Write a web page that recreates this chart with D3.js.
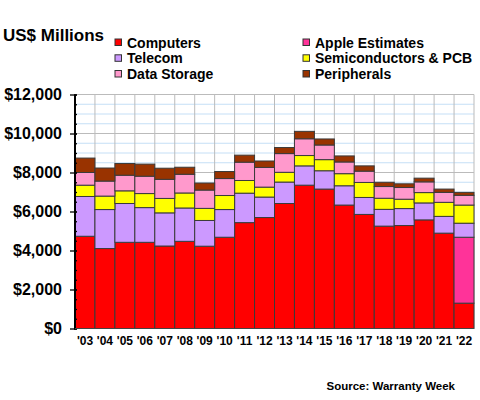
<!DOCTYPE html>
<html>
<head>
<meta charset="utf-8">
<script src="https://cdn.jsdelivr.net/npm/d3@7"></script>
<style>
  html, body { margin: 0; padding: 0; background: #fff; }
  svg { display: block; font-family: "Liberation Sans", Arial, sans-serif; }
</style>
</head>
<body>
<svg id="chart" width="480" height="400"></svg>
<script>
const years = ["'03","'04","'05","'06","'07","'08","'09","'10","'11","'12","'13","'14","'15","'16","'17","'18","'19","'20","'21","'22"];
const computers      = [4730,4100,4420,4420,4230,4470,4220,4680,5430,5690,6410,7350,7150,6330,5850,5250,5280,5570,4890,1300];
const appleEstimates = [0,0,0,0,0,0,0,0,0,0,0,0,0,0,0,0,0,0,0,3380];
const telecom        = [2040,2000,1990,1780,1700,1710,1320,1420,1510,1050,1100,990,940,990,870,860,870,870,860,720];
const semiconductors = [580,690,650,720,740,770,620,720,650,510,500,530,570,620,770,570,480,530,720,930];
const dataStorage    = [650,770,800,890,980,960,940,870,940,1010,960,860,750,600,580,600,600,550,510,500];
const peripherals    = [740,670,600,620,570,360,360,360,360,330,310,380,310,310,270,220,190,190,170,150];
const yTicks = [0,2000,4000,6000,8000,10000,12000];

const seriesKeys  = ["Computers","Apple Estimates","Telecom","Semiconductors & PCB","Data Storage","Peripherals"];
const seriesVals  = [computers, appleEstimates, telecom, semiconductors, dataStorage, peripherals];
const colors = {"Computers":"#FF0000","Apple Estimates":"#FF3399","Telecom":"#CC99FF","Semiconductors & PCB":"#FFFF00","Data Storage":"#FF99CC","Peripherals":"#993300"};

const rows = years.map((y, i) => {
  const r = {year: y};
  seriesKeys.forEach((k, j) => r[k] = seriesVals[j][i]);
  return r;
});

const svg = d3.select("#chart");
const x0 = 75, x1 = 474, yTop = 94.5, yBot = 328.5;

const x = d3.scaleBand().domain(years).range([x0, x1]).padding(0);
const y = d3.scaleLinear().domain([0, 12000]).range([yBot, yTop]);

svg.append("rect").attr("width", 480).attr("height", 400).attr("fill", "#fff");

// minor horizontal gridlines
const g = svg.append("g");
d3.range(500, 12000, 500).filter(v => v % 2000 !== 0).forEach(v => {
  g.append("line").attr("x1", x0).attr("x2", x1).attr("y1", y(v)).attr("y2", y(v))
    .attr("stroke", "#C5DFF6").attr("stroke-width", 1);
});
// major horizontal gridlines
yTicks.filter(v => v > 0).forEach(v => {
  g.append("line").attr("x1", x0).attr("x2", x1).attr("y1", y(v)).attr("y2", y(v))
    .attr("stroke", "#BBBBBB").attr("stroke-width", 1);
});
// vertical gridlines
years.forEach(yr => {
  const xv = x(yr) + x.bandwidth();
  g.append("line").attr("x1", xv).attr("x2", xv).attr("y1", yTop).attr("y2", yBot)
    .attr("stroke", "#BBBBBB").attr("stroke-width", 1);
});

// stacked bars
const stack = d3.stack().keys(seriesKeys);
const stacked = stack(rows);
svg.append("g").selectAll("g").data(stacked).join("g")
  .attr("fill", d => colors[d.key])
  .selectAll("rect").data(d => d.filter(p => p[1] - p[0] > 0)).join("rect")
  .attr("x", d => x(d.data.year))
  .attr("width", x.bandwidth())
  .attr("y", d => y(d[1]))
  .attr("height", d => y(d[0]) - y(d[1]))
  .attr("stroke", "#3a3a3a").attr("stroke-width", 1);

// y axis with minor ticks
const yAxisMinor = d3.axisLeft(y).tickValues(d3.range(0, 12001, 500)).tickSize(3).tickFormat("");
svg.append("g").attr("transform", `translate(${x0 + 2},0)`).call(yAxisMinor)
  .call(s => s.select(".domain").remove())
  .call(s => s.selectAll("line").attr("stroke", "#000").attr("stroke-width", 1.3));
const yAxis = d3.axisLeft(y).tickValues(yTicks).tickSize(7).tickPadding(7)
  .tickFormat(v => "$" + d3.format(",")(v));
svg.append("g").attr("transform", `translate(${x0 + 2},0)`).call(yAxis)
  .call(s => s.select(".domain").remove())
  .call(s => s.selectAll("line").attr("stroke", "#000").attr("stroke-width", 1.3))
  .call(s => s.selectAll("text").attr("font-size", 16).attr("font-weight", "bold")
    .attr("font-family", "Liberation Sans, Arial, sans-serif").attr("fill", "#000")
    .attr("x", 62 - (x0 + 2)));
svg.append("line").attr("x1", x0).attr("x2", x0).attr("y1", yTop).attr("y2", yBot + 1)
  .attr("stroke", "#000").attr("stroke-width", 2);

// x axis
const xAxis = d3.axisBottom(x).tickSize(0).tickPadding(8);
svg.append("g").attr("transform", `translate(0,${yBot})`).call(xAxis)
  .call(s => s.select(".domain").remove())
  .call(s => s.selectAll("text").attr("font-size", 12).attr("font-weight", "bold")
    .attr("font-family", "Liberation Sans, Arial, sans-serif").attr("fill", "#000"));
svg.append("line").attr("x1", x0).attr("x2", x1).attr("y1", yBot).attr("y2", yBot)
  .attr("stroke", "#444").attr("stroke-width", 1);

// title
svg.append("text").attr("x", 3).attr("y", 40.5).attr("font-size", 17).attr("font-weight", "bold")
  .text("US$ Millions");

// legend
const legendItems = [
  {k: "Computers", cx: 115, ty: 47.5},
  {k: "Telecom", cx: 115, ty: 63.3},
  {k: "Data Storage", cx: 115, ty: 79},
  {k: "Apple Estimates", cx: 303, ty: 47.5},
  {k: "Semiconductors & PCB", cx: 303, ty: 63.3},
  {k: "Peripherals", cx: 303, ty: 79}
];
const lg = svg.append("g").selectAll("g").data(legendItems).join("g");
lg.append("rect").attr("x", d => d.cx).attr("y", d => d.ty - 8.5).attr("width", 6.5).attr("height", 6.5)
  .attr("fill", d => colors[d.k]).attr("stroke", "#333").attr("stroke-width", 1);
lg.append("text").attr("x", d => d.cx + 12).attr("y", d => d.ty)
  .attr("font-size", 14).attr("font-weight", "bold").text(d => d.k);

// source
svg.append("text").attr("x", 455).attr("y", 389.5).attr("text-anchor", "end")
  .attr("font-size", 11.5).attr("font-weight", "bold").text("Source: Warranty Week");
</script>
</body>
</html>
